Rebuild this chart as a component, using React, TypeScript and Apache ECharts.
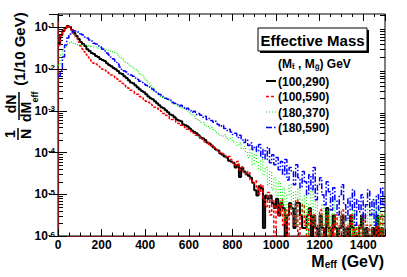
import React, { useEffect, useRef } from "react";
import * as echarts from "echarts";

const FONT = '"Liberation Sans", Arial, Helvetica, sans-serif';

// Histogram binning (GeV)
const binWidth = 10;
const xMin = 0;
const xMax = 1500;
const xTickStep = 200;
// Log y-axis range
const yMin = 1e-6;
const yMax = 0.21;
const yDecades = [-6, -5, -4, -3, -2, -1];

const seriesNames = ["(100,290)", "(100,590)", "(180,370)", "(180,590)"];

// 1/N dN/dM_eff per 10 GeV bin, bins from 0 to 1500 GeV (0 = empty bin)
const h100_290 = [
  0.042, 0.066, 0.082, 0.097, 0.109, 0.103, 0.087, 0.074, 0.062, 0.053,
  0.045, 0.040, 0.036, 0.030, 0.0271, 0.0243, 0.0230, 0.0206, 0.0195, 0.0174,
  0.0165, 0.0156, 0.0139, 0.0125, 0.0118, 0.0106, 0.0100, 0.0090, 0.0080, 0.0076,
  0.0068, 0.0061, 0.0054, 0.0048, 0.0046, 0.0041, 0.0037, 0.0033, 0.0030, 0.0028,
  0.0025, 0.0022, 0.0020, 0.0019, 0.0017, 0.00152, 0.00136, 0.00122, 0.00115, 0.00103,
  0.00092, 0.00082, 0.00078, 0.00070, 0.00062, 0.00059, 0.00056, 0.00047, 0.00045, 0.00042,
  0.00038, 0.00034, 0.00031, 0.00029, 0.00026, 0.00023, 0.00022, 0.00020, 0.000175, 0.000165,
  0.000148, 0.000132, 0.000118, 0.000112, 9.5e-5, 8.9e-5, 8.0e-5, 7.6e-5, 6.4e-5, 6.1e-5,
  5.7e-5, 4.4e-5, 5.1e-5, 2.6e-5, 4.4e-5, 3.5e-5, 3.1e-5, 2.8e-5, 2.5e-5, 1.9e-5,
  1.25e-5, 9.4e-6, 1.56e-5, 1.4e-5, 1.56e-6, 9.4e-6, 7.8e-6, 9.4e-6, 6.2e-6, 4.7e-6,
  7.8e-6, 3.1e-6, 6.2e-6, 4.7e-6, 0, 3.1e-6, 6.2e-6, 4.7e-6, 1.56e-6, 6.2e-6,
  6.2e-6, 3.1e-6, 1.56e-6, 1.56e-6, 3.1e-6, 4.7e-6, 0, 3.1e-6, 1.56e-6, 0,
  3.1e-6, 1.56e-6, 0, 4.7e-6, 1.56e-6, 0, 3.1e-6, 1.56e-6, 0, 1.56e-6,
  3.1e-6, 0, 1.56e-6, 0, 3.1e-6, 1.56e-6, 0, 0, 1.56e-6, 3.1e-6,
  0, 1.56e-6, 0, 0, 1.56e-6, 0, 3.1e-6, 0, 1.56e-6, 0,
];

const h100_590 = [
  0.038, 0.062, 0.082, 0.097, 0.109, 0.103, 0.087, 0.070, 0.056, 0.045,
  0.036, 0.030, 0.0257, 0.0217, 0.0184, 0.0156, 0.0139, 0.0132, 0.0118, 0.0112,
  0.0100, 0.0095, 0.0085, 0.0080, 0.0072, 0.0068, 0.0061, 0.0057, 0.0051, 0.0046,
  0.0041, 0.0037, 0.0035, 0.0031, 0.0030, 0.0026, 0.0025, 0.0022, 0.0021, 0.0019,
  0.0017, 0.0016, 0.00144, 0.00136, 0.00122, 0.00115, 0.00103, 0.00098, 0.00087, 0.00078,
  0.00074, 0.00066, 0.00062, 0.00059, 0.00053, 0.00050, 0.00045, 0.00042, 0.00040, 0.00036,
  0.00034, 0.00031, 0.00029, 0.00026, 0.000245, 0.00022, 0.00021, 0.00018, 0.000175, 0.000156,
  0.000148, 0.000132, 0.000118, 0.000112, 0.0001, 9.5e-5, 8.5e-5, 7.6e-5, 8.0e-5, 6.8e-5,
  5.7e-5, 5.1e-5, 6.1e-5, 3.9e-5, 4.4e-5, 3.3e-5, 2.95e-5, 3.5e-5, 2.2e-5, 1.8e-5,
  2.1e-5, 1.43e-5, 1.03e-5, 1.7e-5, 7.4e-6, 5e-6, 1.1e-5, 3.2e-6, 7.4e-6, 0,
  5.6e-6, 3.2e-6, 7.4e-6, 1.8e-6, 4.2e-6, 0, 5.6e-6, 3.2e-6, 1.8e-6, 7.4e-6,
  0, 3.2e-6, 5.6e-6, 1.8e-6, 0, 4.2e-6, 1.8e-6, 3.2e-6, 0, 1.8e-6,
  4.2e-6, 0, 1.8e-6, 3.2e-6, 0, 1.8e-6, 0, 3.2e-6, 1.8e-6, 0,
  4.2e-6, 1.8e-6, 0, 1.8e-6, 3.2e-6, 0, 1.8e-6, 0, 1.8e-6, 0,
  3.2e-6, 1.8e-6, 0, 1.8e-6, 0, 0, 1.8e-6, 0, 3.2e-6, 0,
];

const h180_370 = [
  0.0125, 0.0217, 0.030, 0.036, 0.040, 0.042, 0.045, 0.042, 0.040, 0.038,
  0.038, 0.038, 0.038, 0.036, 0.036, 0.034, 0.034, 0.034, 0.032, 0.032,
  0.032, 0.030, 0.030, 0.0287, 0.0271, 0.0257, 0.0243, 0.0217, 0.0195, 0.0174,
  0.0156, 0.0139, 0.0125, 0.0118, 0.0112, 0.0100, 0.0090, 0.0080, 0.0072, 0.0064,
  0.0054, 0.0048, 0.0041, 0.0037, 0.0031, 0.0028, 0.0024, 0.0022, 0.0020, 0.0019,
  0.0018, 0.0017, 0.00152, 0.00144, 0.00144, 0.00129, 0.00122, 0.00115, 0.00109, 0.00098,
  0.00092, 0.00082, 0.00074, 0.00066, 0.00059, 0.00053, 0.00053, 0.00047, 0.00042, 0.00038,
  0.00040, 0.00034, 0.00031, 0.00029, 0.00026, 0.000245, 0.00027, 0.00022, 0.0002, 0.00023,
  0.00018, 0.000175, 0.000148, 0.00017, 0.000125, 0.00014, 0.000106, 7.6e-5, 0.000118, 5.1e-5,
  8.9e-5, 6.1e-5, 3.9e-5, 6.8e-5, 2.95e-5, 4.4e-5, 1.7e-5, 3.5e-5, 1.28e-5, 2.5e-5,
  9.2e-6, 2.0e-5, 5.6e-6, 1.43e-5, 2.4e-6, 9.7e-6, 1.7e-5, 4.2e-6, 1.15e-5, 1.8e-6,
  1.43e-5, 7.4e-6, 3.2e-6, 9.7e-6, 0, 5.6e-6, 1.28e-5, 1.8e-6, 7.4e-6, 3.2e-6,
  0, 5.6e-6, 1.8e-6, 4.2e-6, 0, 3.2e-6, 7.4e-6, 1.8e-6, 0, 4.2e-6,
  1.8e-6, 0, 3.2e-6, 1.8e-6, 0, 4.2e-6, 0, 1.8e-6, 0, 3.2e-6,
  0, 1.8e-6, 5.6e-6, 0, 3.2e-6, 7.4e-6, 1.8e-6, 4.2e-6, 0, 3.2e-6,
];

const h180_590 = [
  0.0068, 0.0090, 0.0195, 0.038, 0.056, 0.070, 0.078, 0.082, 0.082, 0.078,
  0.070, 0.066, 0.059, 0.056, 0.050, 0.047, 0.042, 0.040, 0.036, 0.034,
  0.030, 0.0271, 0.0243, 0.0217, 0.0195, 0.0174, 0.0147, 0.0132, 0.0112, 0.0100,
  0.0090, 0.0085, 0.0076, 0.0072, 0.0068, 0.0061, 0.0057, 0.0051, 0.0048, 0.0044,
  0.0041, 0.0039, 0.0035, 0.0033, 0.0030, 0.0028, 0.0025, 0.0024, 0.0022, 0.0020,
  0.0019, 0.0018, 0.0016, 0.00152, 0.00144, 0.00129, 0.00136, 0.00122, 0.00109, 0.00115,
  0.00103, 0.00092, 0.00098, 0.00082, 0.00087, 0.00078, 0.00070, 0.00074, 0.00062, 0.00066,
  0.00059, 0.00053, 0.00056, 0.00047, 0.00042, 0.00045, 0.00038, 0.00034, 0.00036, 0.00031,
  0.00027, 0.00029, 0.00023, 0.00026, 0.0002, 0.000175, 0.00021, 0.000148, 0.00017, 0.000118,
  0.00014, 0.000106, 0.000156, 7.6e-5, 0.000118, 6.8e-5, 0.000132, 5.7e-5, 8.9e-5, 5.1e-5,
  7.6e-5, 3.9e-5, 6.1e-5, 2.95e-5, 6.8e-5, 2.2e-5, 4.4e-5, 3.5e-5, 1.7e-5, 5.1e-5,
  2.5e-5, 1.43e-5, 3.5e-5, 2.0e-5, 9.7e-6, 2.95e-5, 1.28e-5, 4.4e-5, 7.4e-6, 1.7e-5,
  2.5e-5, 9.7e-6, 5.6e-6, 2.0e-5, 1.15e-5, 4.2e-6, 1.43e-5, 7.4e-6, 3.2e-6, 9.7e-6,
  1.7e-5, 5.6e-6, 2.4e-6, 8.2e-6, 4.2e-6, 1.28e-5, 1.8e-6, 7.4e-6, 3.8e-6, 9.7e-6,
  2.4e-6, 5.6e-6, 1.28e-5, 3.2e-6, 7.4e-6, 1.8e-6, 9.7e-6, 4.2e-6, 1.43e-5, 5.6e-6,
];

const histograms = [h100_290, h100_590, h180_370, h180_590];
const lineColors = ["#000000", "#ff0000", "#00ee00", "#0000ff"];
const lineWidths = [2, 1.5, 1.2, 1.5];
const lineTypes: any[] = ["solid", [3, 2], [1, 2], [6, 2, 1.5, 2]];

function toSteps(vals: number[]) {
  const pts = vals.map((v, i) => [xMin + i * binWidth, v > 0 ? v : yMin]);
  const last = vals[vals.length - 1];
  pts.push([xMin + vals.length * binWidth, last > 0 ? last : yMin]);
  return pts;
}

const supLabel = (v: number) => {
  const e = Math.round(Math.log10(v));
  if (Math.abs(Math.log10(v) - e) > 1e-6) return "";
  return `{b|10}{s|${e}}`;
};

export default function App() {
  const ref = useRef<HTMLDivElement>(null);
  useEffect(() => {
    if (!ref.current) return;
    const chart = echarts.init(ref.current, undefined, { renderer: "svg" });
    const baseText = { fontFamily: FONT, fontWeight: "bold" as const, color: "#000" };
    const option: any = {
      animation: false,
      backgroundColor: "#ffffff",
      grid: { left: 58, top: 14, right: 22, bottom: 41, show: true, borderColor: "#000", borderWidth: 1, backgroundColor: "transparent" },
      xAxis: [
        {
          type: "value", min: xMin, max: xMax, interval: xTickStep, position: "bottom",
          axisLine: { show: true, onZero: false, lineStyle: { color: "#7a1a1a", width: 1.2 } },
          axisTick: { show: true, inside: true, length: 7, lineStyle: { color: "#000" } },
          minorTick: { show: true, splitNumber: 4, length: 3.5, lineStyle: { color: "#000" } },
          splitLine: { show: false },
          axisLabel: { ...baseText, fontSize: 12, margin: 3, formatter: (v: number) => String(v) },
        },
        {
          type: "value", min: xMin, max: xMax, interval: xTickStep, position: "top",
          axisLine: { show: false },
          axisTick: { show: true, inside: true, length: 7, lineStyle: { color: "#000" } },
          minorTick: { show: true, splitNumber: 4, length: 3, lineStyle: { color: "#000" } },
          splitLine: { show: false },
          axisLabel: { show: false },
        },
      ],
      yAxis: [
        {
          type: "log", logBase: 10, min: yMin, max: yMax, position: "left",
          axisLine: { show: true, lineStyle: { color: "#000" } },
          axisTick: { show: true, inside: true, length: 9, lineStyle: { color: "#000" } },
          splitLine: { show: false },
          axisLabel: {
            showMaxLabel: false, margin: 3, formatter: supLabel,
            rich: {
              b: { ...baseText, fontSize: 12, lineHeight: 12, verticalAlign: "bottom" },
              s: { ...baseText, fontSize: 8, lineHeight: 8, verticalAlign: "top", padding: [0, 0, 6, 0] },
            },
          },
        },
        {
          type: "log", logBase: 10, min: yMin, max: yMax, position: "right",
          axisLine: { show: true, lineStyle: { color: "#7a1a1a", width: 1.2 } },
          axisTick: { show: true, inside: true, length: 9, lineStyle: { color: "#000" } },
          splitLine: { show: false },
          axisLabel: { show: false },
        },
      ],
      series: histograms.map((h, k) => ({
        name: seriesNames[k], type: "line", step: "end", symbol: "none", showSymbol: false,
        data: toSteps(h), clip: true, xAxisIndex: 0, yAxisIndex: 0, z: 2 + k,
        lineStyle: { color: lineColors[k], width: lineWidths[k], type: lineTypes[k] },
        itemStyle: { color: lineColors[k] },
      })),
    };
    chart.setOption(option);

    // log minor ticks (2..9 per decade) on left and right frame, from the axis scale
    const xl = chart.convertToPixel({ xAxisIndex: 0 }, xMin) as number;
    const xr = chart.convertToPixel({ xAxisIndex: 0 }, xMax) as number;
    const minor: any[] = [];
    yDecades.forEach((e) => {
      for (let k = 2; k <= 9; k++) {
        const v = k * Math.pow(10, e);
        if (v >= yMax) continue;
        const py = Math.round(chart.convertToPixel({ yAxisIndex: 0 }, v) as number) + 0.5;
        minor.push({ type: "line", silent: true, shape: { x1: xl, y1: py, x2: xl + 5, y2: py }, style: { stroke: "#000", lineWidth: 1 } });
        minor.push({ type: "line", silent: true, shape: { x1: xr - 5, y1: py, x2: xr, y2: py }, style: { stroke: "#000", lineWidth: 1 } });
      }
    });

    // legend (line samples + labels)
    const legendTop = 81;
    const legendStep = 15.5;
    const legendEls: any[] = [];
    seriesNames.forEach((name, k) => {
      const ly = legendTop + k * legendStep;
      const dash = Array.isArray(lineTypes[k]) ? lineTypes[k] : null;
      legendEls.push({
        type: "line", silent: true, shape: { x1: 266, y1: ly, x2: 276, y2: ly },
        style: { stroke: lineColors[k], lineWidth: lineWidths[k], lineDash: dash },
      });
      legendEls.push({
        type: "text", x: 278, y: ly + 0.5,
        style: { text: name, font: `bold 12px ${FONT}`, fill: "#000", align: "left", verticalAlign: "middle" },
      });
    });

    const rot = Math.PI / 2;
    const titleFont = `bold 15px ${FONT}`;
    const fracFont = `bold 14px ${FONT}`;
    const graphics: any[] = [
      ...minor,
      ...legendEls,
      // title box with shadow
      { type: "rect", shape: { x: 260, y: 30, width: 109, height: 23 }, style: { fill: "#000" } },
      { type: "rect", shape: { x: 258, y: 28, width: 109, height: 23 }, style: { fill: "#fff", stroke: "#000", lineWidth: 1 } },
      { type: "text", x: 312.5, y: 40, style: { text: "Effective Mass", font: titleFont, fill: "#000", align: "center", verticalAlign: "middle" } },
      // legend header
      {
        type: "text", x: 278, y: 64,
        style: {
          text: "{n|(M}{s|t̃}{n| , M}{s|g̃}{n|) GeV}", align: "left", verticalAlign: "middle",
          rich: {
            n: { font: `bold 12px ${FONT}`, fill: "#000", lineHeight: 12, verticalAlign: "top" },
            s: { font: `bold 8px ${FONT}`, fill: "#000", lineHeight: 8, verticalAlign: "bottom", padding: [8, 0, 0, 0] },
          },
        },
      },
      // x axis title
      {
        type: "text", x: 384, y: 261,
        style: {
          text: "{m|M}{s|eff}{m| (GeV)}", align: "right", verticalAlign: "middle",
          rich: {
            m: { font: `bold 16px ${FONT}`, fill: "#000", lineHeight: 16, verticalAlign: "top" },
            s: { font: `bold 10px ${FONT}`, fill: "#000", lineHeight: 10, verticalAlign: "bottom", padding: [9, 0, 0, 0] },
          },
        },
      },
      // y axis title (rotated)
      { type: "text", x: 19, y: 49, rotation: rot, style: { text: "(1/10 GeV)", font: titleFont, fill: "#000", align: "center", verticalAlign: "middle" } },
      { type: "text", x: 11, y: 104, rotation: rot, style: { text: "dN", font: fracFont, fill: "#000", align: "center", verticalAlign: "middle" } },
      { type: "line", shape: { x1: 19, y1: 92, x2: 19, y2: 120 }, style: { stroke: "#000", lineWidth: 1.5 } },
      { type: "text", x: 26, y: 112, rotation: rot, style: { text: "dM", font: fracFont, fill: "#000", align: "center", verticalAlign: "middle" } },
      { type: "text", x: 35, y: 97, rotation: rot, style: { text: "eff", font: `bold 9px ${FONT}`, fill: "#000", align: "center", verticalAlign: "middle" } },
      { type: "text", x: 10, y: 134, rotation: rot, style: { text: "1", font: fracFont, fill: "#000", align: "center", verticalAlign: "middle" } },
      { type: "line", shape: { x1: 18, y1: 128, x2: 18, y2: 140 }, style: { stroke: "#000", lineWidth: 1.5 } },
      { type: "text", x: 26, y: 134, rotation: rot, style: { text: "N", font: fracFont, fill: "#000", align: "center", verticalAlign: "middle" } },
    ];
    chart.setOption({ graphic: { elements: graphics } });
    return () => chart.dispose();
  }, []);
  return <div ref={ref} style={{ position: "fixed", left: 0, top: 0, width: 407, height: 277, background: "#fff" }} />;
}
